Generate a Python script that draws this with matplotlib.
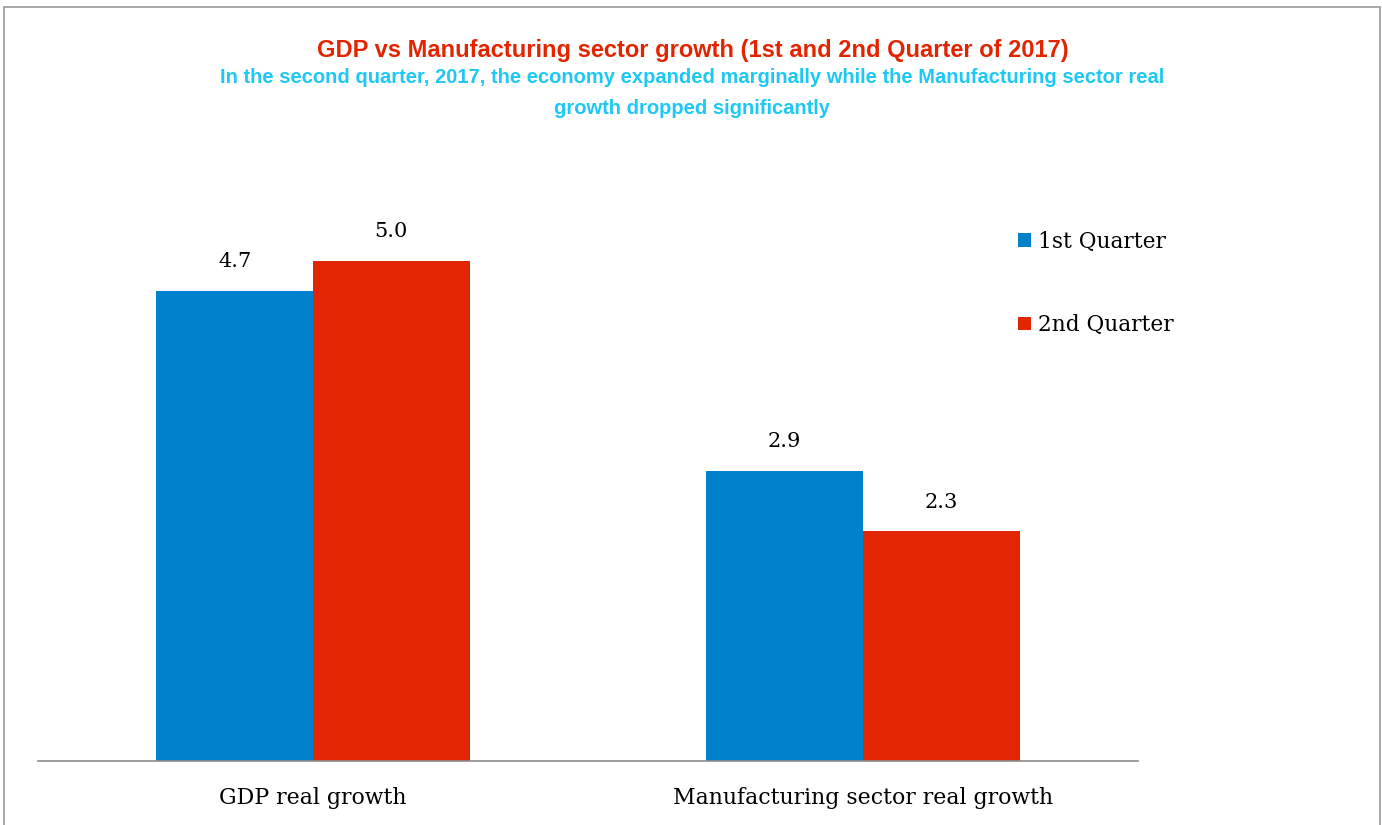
import matplotlib.pyplot as plt
from matplotlib.patches import Rectangle
import numpy as np

# data
categories = ["GDP real growth", "Manufacturing sector real growth"]
q1_values = [4.7, 2.9]
q2_values = [5.0, 2.3]
series_names = ["1st Quarter", "2nd Quarter"]

blue = "#0081CB"
red = "#E32400"
serif = ["DejaVu Serif", "Liberation Serif"]
sans = ["Liberation Sans", "DejaVu Sans"]

fig = plt.figure(figsize=(13.82, 8.25), dpi=100)
ax = fig.add_axes([38/1382, 64/825, 1100/1382, 600/825])

x = np.arange(len(categories))
w = 0.285
b1 = ax.bar(x - w/2, q1_values, w, color=blue, label=series_names[0])
b2 = ax.bar(x + w/2, q2_values, w, color=red, label=series_names[1])

for bars, vals in ((b1, q1_values), (b2, q2_values)):
    for rect, v in zip(bars, vals):
        ax.text(rect.get_x() + rect.get_width()/2, v + 0.29, "%.1f" % v,
                ha="center", va="center", fontsize=15, family=serif)

ax.set_xlim(-0.5, 1.5)
ax.set_ylim(0, 6)
ax.set_xticks(x)
ax.set_xticklabels(categories, fontsize=15.8, family=serif)
ax.tick_params(axis="x", length=0, pad=19)
ax.set_yticks([])
for s in ["top", "right", "left"]:
    ax.spines[s].set_visible(False)
ax.spines["bottom"].set_color("#8c8c8c")
ax.spines["bottom"].set_linewidth(1.2)

leg = fig.legend(handles=[b1, b2], loc="upper left",
                 bbox_to_anchor=(998/1382, 1 - 211/825), frameon=False,
                 prop={"family": serif, "size": 15.6}, handlelength=0.6,
                 handleheight=0.6, handletextpad=0.35, labelspacing=2.85)

fig.text(0.5015, 1 - 50/825, "GDP vs Manufacturing sector growth (1st and 2nd Quarter of 2017)",
         ha="center", va="center", color=red, fontsize=17, fontweight="bold",
         family=sans)
fig.text(0.501, 1 - 93/825,
         "In the second quarter, 2017, the economy expanded marginally while the Manufacturing sector real\ngrowth dropped significantly",
         ha="center", va="center", color="#1EC8F5", fontsize=14.5, fontweight="bold",
         family=sans, linespacing=1.75)

# outer frame
fig.patches.append(Rectangle((4/1382, -0.01), 1376/1382, 1 - 7/825 + 0.01,
                             transform=fig.transFigure, fill=False,
                             edgecolor="#999999", linewidth=1.2))

fig.savefig("out.png", dpi=100)
